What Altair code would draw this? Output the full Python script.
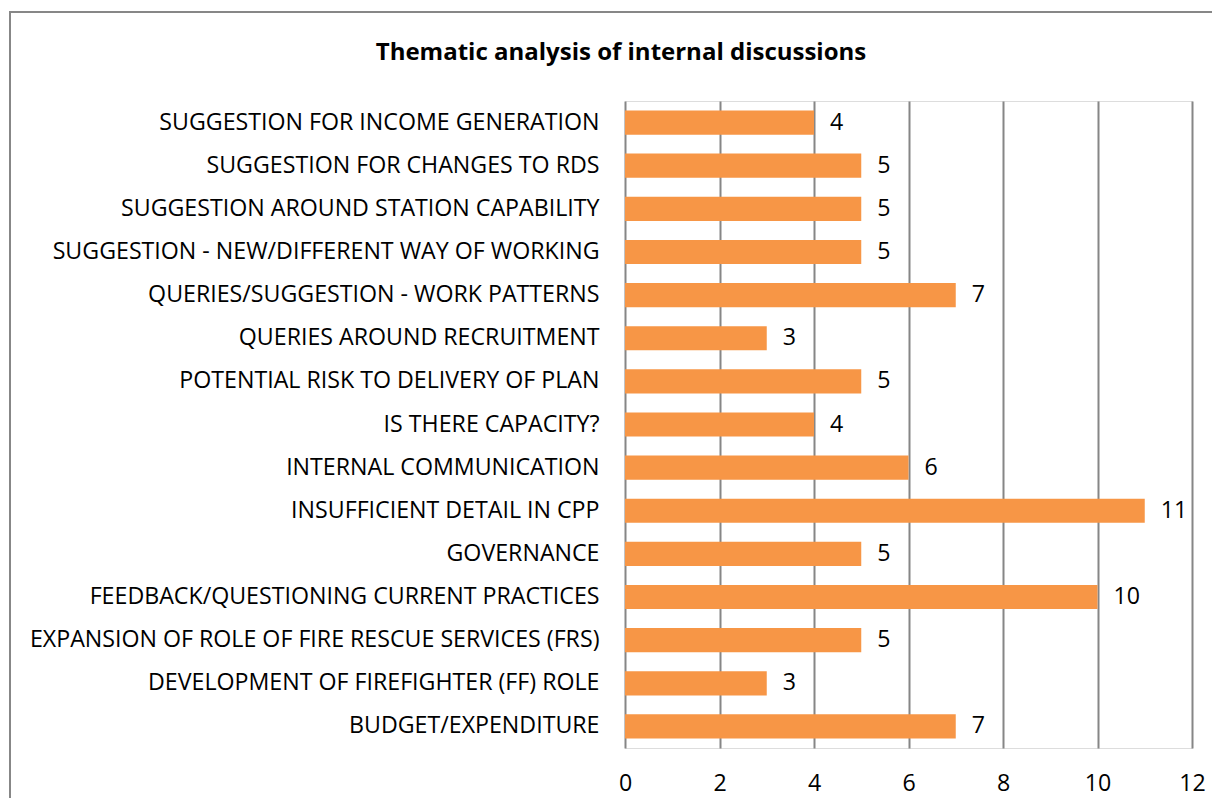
import altair as alt
import pandas as pd

categories = [
    "SUGGESTION FOR INCOME GENERATION",
    "SUGGESTION FOR CHANGES TO RDS",
    "SUGGESTION AROUND STATION CAPABILITY",
    "SUGGESTION - NEW/DIFFERENT WAY OF WORKING",
    "QUERIES/SUGGESTION - WORK PATTERNS",
    "QUERIES AROUND RECRUITMENT",
    "POTENTIAL RISK TO DELIVERY OF PLAN",
    "IS THERE CAPACITY?",
    "INTERNAL COMMUNICATION",
    "INSUFFICIENT DETAIL IN CPP",
    "GOVERNANCE",
    "FEEDBACK/QUESTIONING CURRENT PRACTICES",
    "EXPANSION OF ROLE OF FIRE RESCUE SERVICES (FRS)",
    "DEVELOPMENT OF FIREFIGHTER (FF) ROLE",
    "BUDGET/EXPENDITURE",
]
values = [4, 5, 5, 5, 7, 3, 5, 4, 6, 11, 5, 10, 5, 3, 7]
x_ticks = [0, 2, 4, 6, 8, 10, 12]

df = pd.DataFrame({"theme": categories, "count": values})

FONT = "Open Sans"
FS = 23.2

y_enc = alt.Y(
    "theme:N",
    sort=categories,
    title=None,
    scale=alt.Scale(paddingInner=0.44, paddingOuter=0.22),
    axis=alt.Axis(
        domain=False, ticks=False, labelFont=FONT, labelFontSize=FS,
        labelColor="#000000", labelPadding=26, labelLimit=700,
    ),
)
x_enc = alt.X(
    "count:Q",
    title=None,
    scale=alt.Scale(domain=[0, 12], nice=False),
    axis=alt.Axis(
        values=x_ticks, domain=False, ticks=False, grid=True, labelFlush=False,
        gridColor="#868686", gridWidth=2, labelFont=FONT, labelFontSize=FS,
        labelColor="#000000", labelPadding=24,
    ),
)

bars = alt.Chart(df).mark_bar(color="#F79646").encode(x=x_enc, y=y_enc)
labels = alt.Chart(df).mark_text(
    align="left", baseline="middle", dx=16, font=FONT, fontSize=FS, color="#000000"
).encode(x="count:Q", y=alt.Y("theme:N", sort=categories), text="count:Q")

border = alt.Chart(pd.DataFrame({"a": [0]})).mark_rect(
    fill=None, stroke="#878787", strokeWidth=2
).encode(
    x=alt.value(-615), x2=alt.value(700), y=alt.value(-89), y2=alt.value(800)
)

title = alt.Chart(pd.DataFrame({"t": ["Thematic analysis of internal discussions"]})).mark_text(
    font=FONT, fontSize=24, fontWeight="bold", color="#000000", align="center", baseline="middle"
).encode(text="t:N", x=alt.value(-4), y=alt.value(-48))

chart = alt.layer(bars, labels, border, title).properties(
    width=567, height=647,
    autosize=alt.AutoSizeParams(type="none"),
    padding={"left": 617, "top": 93, "right": 20, "bottom": 50},
).configure_view(stroke=None).configure(background="#ffffff")

chart.save("out.html", embed_options={"renderer": "svg", "actions": False})
